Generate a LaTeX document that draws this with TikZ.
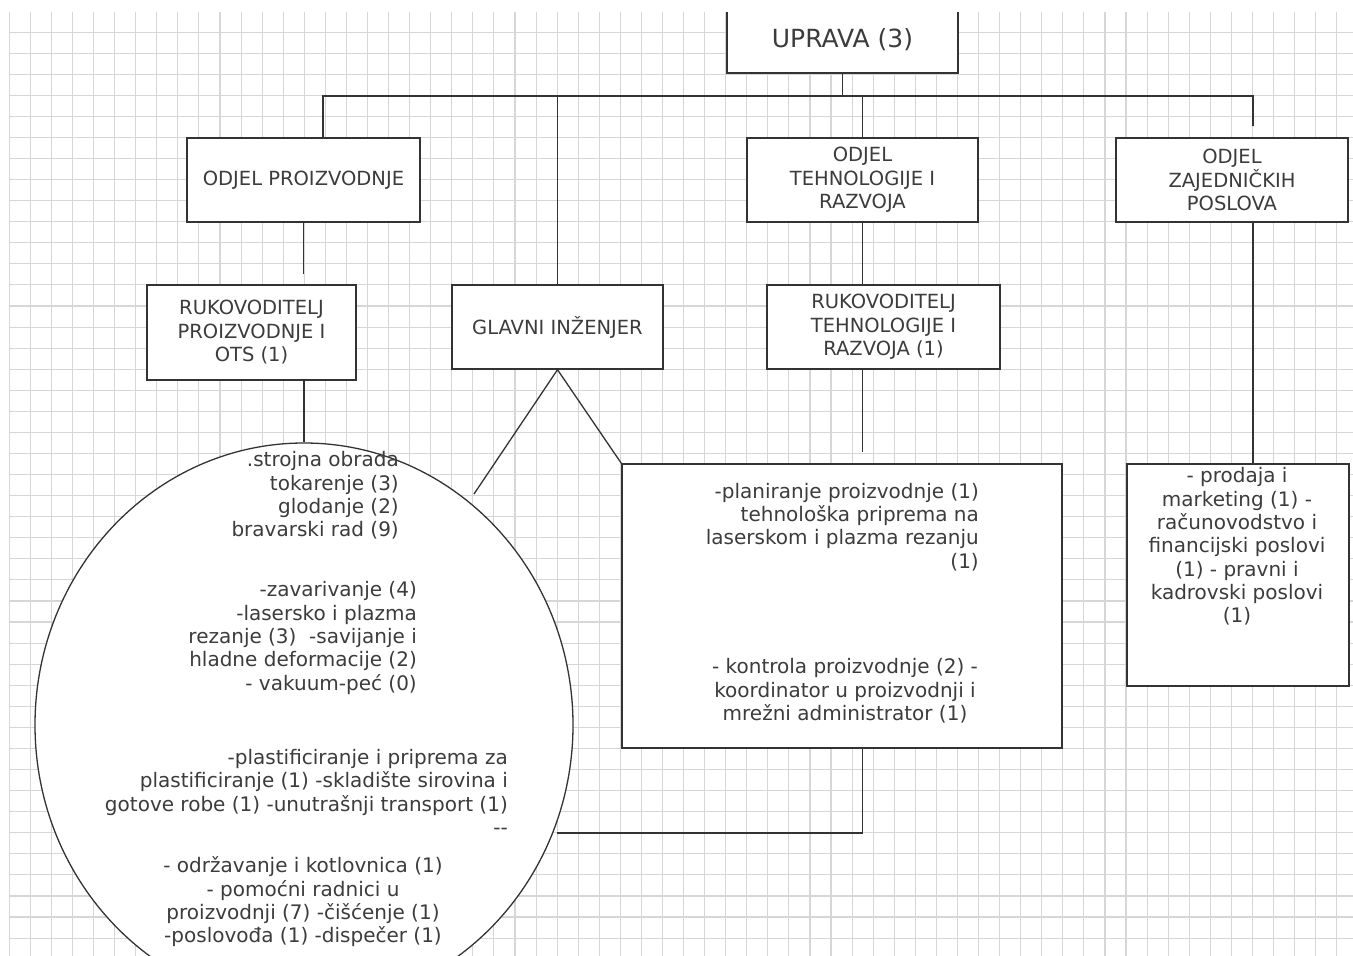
\documentclass[tikz,border=0pt]{standalone}
\usepackage{fontspec}
\setmainfont{DejaVu Sans}
\usetikzlibrary{shapes.geometric}
\definecolor{rul}{HTML}{D6D6D6}
\definecolor{ink}{HTML}{333333}
\definecolor{txt}{HTML}{3C3C3C}
\tikzset{
  box/.style={draw=ink, fill=white, line width=1.4pt, inner sep=0pt, text=txt, align=center, font=\fontsize{19.5}{23.5}\selectfont},
  con/.style={draw=ink, line width=1.3pt},
  txtblk/.style={inner sep=0pt, text=txt, font=\fontsize{20}{23.3}\selectfont},
  gridln/.style={draw=rul, line width=1.1pt}
}

\begin{document}
\begin{tikzpicture}[x=1pt,y=-1pt]
\useasboundingbox (0,0) rectangle (1353,956);
\clip (9,12) rectangle (1353,956);
\foreach \i in {0,...,63}
  \draw[gridln] ({9.3+21.07*\i},11) -- ++(0,950);
\foreach \j in {0,...,45}
  \draw[gridln] (9,{11+21.07*\j}) -- ++(1350,0);

\node[box, minimum width=231pt, minimum height=66pt, font=\fontsize{25}{28}\selectfont] (up) at (842.5,40) {UPRAVA (3)};
\node[box, minimum width=233pt, minimum height=84pt] (op) at (303.5,180) {ODJEL PROIZVODNJE};
\node[box, minimum width=231pt, minimum height=84pt] (ot) at (862.5,180) {ODJEL\\TEHNOLOGIJE I\\RAZVOJA};
\node[box, minimum width=232pt, minimum height=84pt] (oz) at (1232,180) {ODJEL\\ZAJEDNIČKIH\\POSLOVA};
\node[box, minimum width=209pt, minimum height=95pt] (rp) at (251.5,332.5) {RUKOVODITELJ\\PROIZVODNJE I\\OTS (1)};
\node[box, minimum width=211pt, minimum height=84pt] (gi) at (557.5,327) {GLAVNI INŽENJER};
\node[box, minimum width=233pt, minimum height=84pt] (rt) at (883.5,327) {RUKOVODITELJ\\TEHNOLOGIJE I\\RAZVOJA (1)};
\node[ellipse, draw=ink, fill=white, line width=1.3pt, inner sep=0pt, minimum width=538pt, minimum height=564pt] (ops) at (304,725) {};
\node[box, minimum width=440pt, minimum height=284pt] (pt) at (842,606) {};
\node[box, minimum width=222pt, minimum height=222pt] (zp) at (1238,575) {};

\node[txtblk, align=right, anchor=east] (o1) at (399,495.5) {.strojna obrada\\tokarenje (3)\\glodanje (2)\\bravarski rad (9)};
\node[txtblk, align=right, anchor=east] (o2) at (417,638) {-zavarivanje (4)\\-lasersko i plazma\\rezanje (3)\ \ -savijanje i\\hladne deformacije (2)\\- vakuum-peć (0)};
\node[txtblk, align=right, anchor=east] (o3) at (508,792) {-plastificiranje i priprema za\\plastificiranje (1) -skladište sirovina i\\gotove robe (1) -unutrašnji transport (1)\\{-}{-}};
\node[txtblk, align=center] (o4) at (303,902) {- održavanje i kotlovnica (1)\\- pomoćni radnici u\\proizvodnji (7) -čišćenje (1)\\-poslovođa (1) -dispečer (1)};
\node[txtblk, align=right, anchor=east] (p1) at (979,527) {-planiranje proizvodnje (1)\\tehnološka priprema na\\laserskom i plazma rezanju\\(1)};
\node[txtblk, align=center] (p2) at (845,691) {- kontrola proizvodnje (2) -\\koordinator u proizvodnji i\\mrežni administrator (1)};
\node[txtblk, align=center] (z1) at (1237,546.5) {- prodaja i\\marketing (1) -\\računovodstvo i\\financijski poslovi\\(1) - pravni i\\kadrovski poslovi\\(1)};

\coordinate (bus) at (0,96);
\coordinate (tp) at ([xshift=19.5pt]op.north);
\coordinate (tz) at ([xshift=21pt]oz.north);
\coordinate (gk) at (474,494);
\coordinate (ok) at (557,833);
\draw[con] (up.south) -- (up.south |- bus);
\draw[con, shorten >=11pt] (tp) |- (tz |- bus) -- (tz);
\draw[con] (gi.north) -- (gi.north |- bus);
\draw[con] (ot.north) -- (ot.north |- bus);
\draw[con, shorten >=10pt] (op.south) -- (op.south |- rp.north);
\draw[con] (ot.south) -- (ot.south |- rt.north);
\draw[con] (ops.north |- rp.south) -- (ops.north);
\draw[con] (gi.south) -- (gk);
\draw[con] (gi.south) -- (pt.north west);
\draw[con, shorten >=11pt] (ot.south |- rt.south) -- (ot.south |- pt.north);
\draw[con] (ot.south |- pt.south) |- (ok);
\draw[con] (tz |- oz.south) -- (tz |- zp.north);
\end{tikzpicture}
\end{document}
